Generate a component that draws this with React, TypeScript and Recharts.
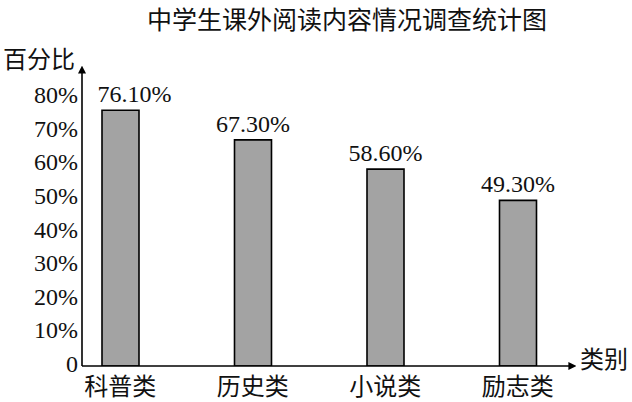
import { BarChart, Bar, XAxis, YAxis, LabelList } from "recharts"

const categories = ["科普类", "历史类", "小说类", "励志类"]
const percents = [76.1, 67.3, 58.6, 49.3]
const yTicks = [0, 10, 20, 30, 40, 50, 60, 70, 80]

const data = categories.map((name, i) => ({ name, value: percents[i] }))

const latin = "'Liberation Serif', 'Times New Roman', 'DejaVu Serif', serif"
const cjk = "'Noto Sans CJK SC', sans-serif"

const YTick = (props: any) => {
  const { x, y, payload } = props
  const v = payload.value
  return (
    <text x={x} y={y} dy={6} textAnchor="end" fill="#111" fontSize={24} fontFamily={latin}>
      {v === 0 ? "0" : `${v}%`}
    </text>
  )
}

const XTick = (props: any) => {
  const { x, y, payload } = props
  return (
    <text x={x} y={y} dy={29} textAnchor="middle" fill="#111" fontSize={24} fontFamily={cjk}>
      {payload.value}
    </text>
  )
}

const BarLabel = (props: any) => {
  const { x, y, width, value, index } = props
  const shift = index === 0 ? 14 : 0
  return (
    <text x={x + width / 2 + shift} y={y - 8} textAnchor="middle" fill="#111" fontSize={24} fontFamily={latin}>
      {`${Number(value).toFixed(2)}%`}
    </text>
  )
}

export default function App() {
  return (
    <div style={{ position: "absolute", left: 0, top: 0, width: 632, height: 402, background: "#fff" }}>
      <div
        style={{
          position: "absolute",
          left: 0,
          width: 632,
          top: 2,
          textAlign: "center",
          paddingLeft: 62,
          boxSizing: "border-box",
          fontFamily: cjk,
          fontSize: 25,
          lineHeight: "32px",
          color: "#111",
        }}
      >
        中学生课外阅读内容情况调查统计图
      </div>
      <div style={{ position: "absolute", left: 3, top: 43, fontFamily: cjk, fontSize: 24, lineHeight: "30px", color: "#111" }}>
        百分比
      </div>
      <div style={{ position: "absolute", left: 580, top: 343, fontFamily: cjk, fontSize: 24, lineHeight: "30px", color: "#111" }}>
        类别
      </div>
      <BarChart width={632} height={402} data={data} margin={{ top: 72, right: 62, left: 0, bottom: 0 }}>
        <defs>
          <marker id="arrowHead" viewBox="0 0 10 10" refX="2" refY="5" markerWidth="8" markerHeight="8" markerUnits="userSpaceOnUse" orient="auto-start-reverse">
            <path d="M0,0 L10,5 L0,10 Z" fill="#000" />
          </marker>
        </defs>
        <XAxis
          dataKey="name"
          height={36}
          padding={{ left: -28, right: -14 }}
          tickSize={0}
          tickMargin={0}
          axisLine={{ stroke: "#000", strokeWidth: 1.6, markerEnd: "url(#arrowHead)" }}
          tickLine={false}
          tick={<XTick />}
        />
        <YAxis
          width={82}
          domain={[0, 87.5]}
          ticks={yTicks}
          allowDataOverflow
          tickSize={0}
          tickMargin={4}
          axisLine={{ stroke: "#000", strokeWidth: 1.6, markerStart: "url(#arrowHead)" }}
          tickLine={false}
          tick={<YTick />}
        />
        <Bar dataKey="value" fill="#a3a3a3" stroke="#000" strokeWidth={1.6} barSize={37} isAnimationActive={false}>
          <LabelList dataKey="value" content={<BarLabel />} />
        </Bar>
      </BarChart>
    </div>
  )
}
